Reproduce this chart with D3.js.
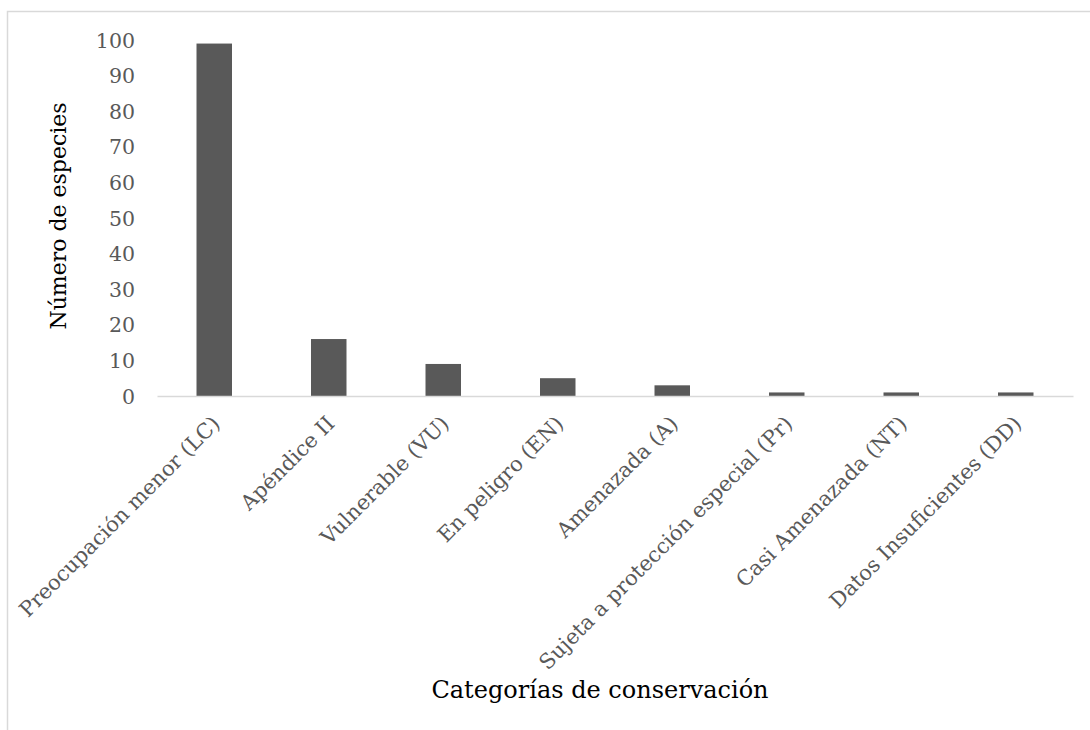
<!DOCTYPE html>
<html>
<head>
<meta charset="utf-8">
<script src="https://cdn.jsdelivr.net/npm/d3@7"></script>
<style>
  html, body { margin: 0; padding: 0; background: #fff; }
  svg { display: block; }
</style>
</head>
<body>
<svg id="chart" width="1090" height="730"></svg>
<script>
// Conservation categories and number of species in each
const categories = [
  "Preocupación menor (LC)",
  "Apéndice II",
  "Vulnerable (VU)",
  "En peligro (EN)",
  "Amenazada (A)",
  "Sujeta a protección especial (Pr)",
  "Casi Amenazada (NT)",
  "Datos Insuficientes (DD)"
];
const species = [99, 16, 9, 5, 3, 1, 1, 1];
const yTicks = [0, 10, 20, 30, 40, 50, 60, 70, 80, 90, 100];
const xTitle = "Categorías de conservación";
const yTitle = "Número de especies";

const font = "'DejaVu Serif', serif";
const svg = d3.select("#chart");

// chart area frame (runs past the right and bottom edges)
svg.append("rect")
  .attr("x", 7.5).attr("y", 11.5)
  .attr("width", 1200).attr("height", 800)
  .attr("fill", "none")
  .attr("stroke", "#d9d9d9")
  .attr("stroke-width", 1.5);

const plot = { left: 157, right: 1073, top: 40, bottom: 396 };

const x = d3.scaleBand()
  .domain(categories)
  .range([plot.left, plot.right])
  .paddingInner(0.69)
  .paddingOuter(0.345);

const y = d3.scaleLinear()
  .domain([0, 100])
  .range([plot.bottom, plot.top]);

// bars
svg.append("g")
  .selectAll("rect")
  .data(categories)
  .join("rect")
  .attr("x", d => x(d))
  .attr("width", x.bandwidth())
  .attr("y", (d, i) => y(species[i]))
  .attr("height", (d, i) => y(0) - y(species[i]))
  .attr("fill", "#595959");

// y axis: labels only
const yAxis = svg.append("g")
  .attr("transform", `translate(${plot.left - 22},0)`)
  .call(d3.axisLeft(y).tickValues(yTicks).tickSize(0).tickPadding(0));
yAxis.select(".domain").remove();
yAxis.selectAll("text")
  .attr("font-family", font)
  .attr("font-size", 20.5)
  .attr("fill", "#595959")
  .attr("dy", "0.35em");

// x axis: baseline and rotated category labels
const xAxis = svg.append("g")
  .attr("transform", `translate(0,${plot.bottom})`)
  .call(d3.axisBottom(x).tickSize(0).tickPadding(0));
xAxis.select(".domain")
  .attr("stroke", "#d9d9d9")
  .attr("stroke-width", 1.5);
xAxis.selectAll(".tick text")
  .attr("font-family", font)
  .attr("font-size", 21)
  .attr("fill", "#595959")
  .attr("text-anchor", "end")
  .attr("dy", 0)
  .attr("y", 0)
  .attr("transform", "translate(7,29) rotate(-45)");

// axis titles
svg.append("text")
  .attr("x", 600)
  .attr("y", 698)
  .attr("text-anchor", "middle")
  .attr("font-family", font)
  .attr("font-size", 24)
  .attr("fill", "#000")
  .text(xTitle);

svg.append("text")
  .attr("transform", `translate(66,216) rotate(-90)`)
  .attr("text-anchor", "middle")
  .attr("font-family", font)
  .attr("font-size", 22)
  .attr("fill", "#000")
  .text(yTitle);
</script>
</body>
</html>
